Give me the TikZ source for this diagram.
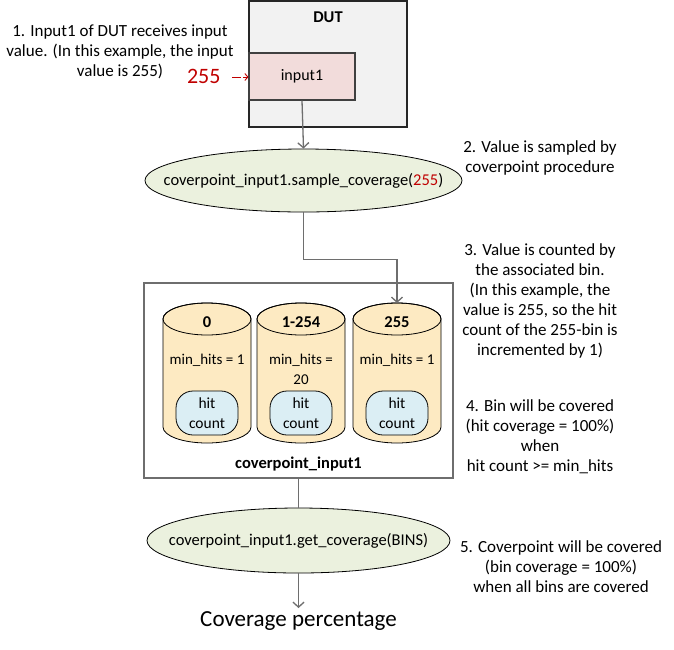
\documentclass[tikz,border=0pt]{standalone}
\usepackage{fontspec}
\setmainfont{Carlito}
\usetikzlibrary{arrows.meta,shapes.geometric}

\definecolor{dutgray}{RGB}{242,242,242}
\definecolor{inpink}{RGB}{242,220,219}
\definecolor{callgreen}{RGB}{235,241,222}
\definecolor{binpeach}{RGB}{253,234,194}
\definecolor{hitblue}{RGB}{219,238,244}
\definecolor{valred}{RGB}{192,0,0}
\definecolor{linegray}{RGB}{110,110,110}

\newcommand{\fsz}[1]{\fontsize{#1}{20}\selectfont}

\begin{document}
\begin{tikzpicture}[
  x=1pt, y=-1pt,
  font=\fsz{17},
  block/.style={draw, line width=1.2pt, inner sep=0pt},
  call/.style={ellipse, draw, line width=0.8pt, fill=callgreen, inner sep=0pt, font=\fsz{16.5}},
  hitbox/.style={draw, line width=0.8pt, fill=hitblue, rounded corners=17pt, minimum width=62pt, minimum height=44pt, align=center, inner sep=0pt, font=\fsz{15.5}},
  title/.style={font=\fsz{16.5}\bfseries},
  note/.style={align=center},
  arrow/.style={-{Straight Barb[length=5pt,width=11pt]}, line width=1.3pt, draw=linegray},
  wire/.style={line width=1.3pt, draw=linegray}
]
\useasboundingbox (0,0) rectangle (674,649);

% DUT and its input
\node[block, draw=black!85, fill=dutgray, minimum width=158pt, minimum height=126pt] (dut) at (328,64) {};
\node[title] (dutlabel) at (328,17) {DUT};
\node[block, draw=black!75, fill=inpink, minimum width=106pt, minimum height=47pt, font=\fsz{16}] (input) at (302,76.5) {input1};
\node[text=valred, font=\fsz{22}, anchor=east] (value) at (224,76) {255};
\draw[-{Straight Barb[length=3pt,width=7pt]}, line width=0.9pt, draw=valred, dash pattern=on 9pt off 2pt]
  (value.east) ++(8,1) coordinate (valstart) (valstart) -- (input.west |- valstart);

% sample call
\node[call, minimum width=317pt, minimum height=63pt] (sample) at (303.5,180.5)
  {\makebox[0pt]{coverpoint\_input1.sample\_coverage(\textcolor{valred}{255})}};
\draw[arrow] (input.south) -- (sample.north);

% coverpoint with its bins
\node[block, draw=linegray, fill=white, minimum width=309pt, minimum height=195pt] (cover) at (298.5,380.5) {};
\node[title] (coverlabel) at (298.5,464) {coverpoint\_input1};

\foreach \i/\cx/\range/\hits in {1/207/0/{min\_hits = 1}, 2/301/1-254/{min\_hits =\\20}, 3/397/255/{min\_hits = 1}} {
  \draw[line width=0.8pt, fill=binpeach] (\cx-44,319) -- (\cx-44,427)
    arc[start angle=180, end angle=360, x radius=44pt, y radius=16pt] -- (\cx+44,319)
    arc[start angle=0, end angle=180, x radius=44pt, y radius=16pt] -- cycle;
  \draw[line width=0.8pt] (\cx,319) ellipse[x radius=44pt, y radius=16pt];
  \coordinate (bintop\i) at (\cx,303);
  \node[title] (range\i) at (\cx,322) {\range};
  \node[note, anchor=north, font=\fsz{15}] (hits\i) at (\cx,351) {\hits};
  \node[hitbox] (count\i) at (\cx,413) {hit\\count};
}
\draw[arrow] (sample.south) -- ++(0,47) -| (bintop3);

% coverage call and result
\node[call, minimum width=303pt, minimum height=65pt] (getcov) at (298.5,540.5)
  {\makebox[0pt]{coverpoint\_input1.get\_coverage(BINS)}};
\draw[wire] (cover.south) -- (getcov.north);
\node[font=\fsz{23}] (result) at (298.5,621) {Coverage percentage};
\draw[arrow] (getcov.south) -- (result.north);

% step notes
\node[note] (step1) at (120,52) {1. Input1 of DUT receives input\\value. (In this example, the input\\value is 255)};
\node[note] (step2) at (540,158) {2. Value is sampled by\\coverpoint procedure};
\node[note] (step3) at (540,301) {3. Value is counted by\\the associated bin.\\(In this example, the\\value is 255, so the hit\\count of the 255-bin is\\incremented by 1)};
\node[note] (step4) at (540,436.5) {4. Bin will be covered\\(hit coverage = 100\%)\\when\\hit count >= min\_hits};
\node[note] (step5) at (561,567) {5. Coverpoint will be covered\\(bin coverage = 100\%)\\when all bins are covered};

\end{tikzpicture}
\end{document}
